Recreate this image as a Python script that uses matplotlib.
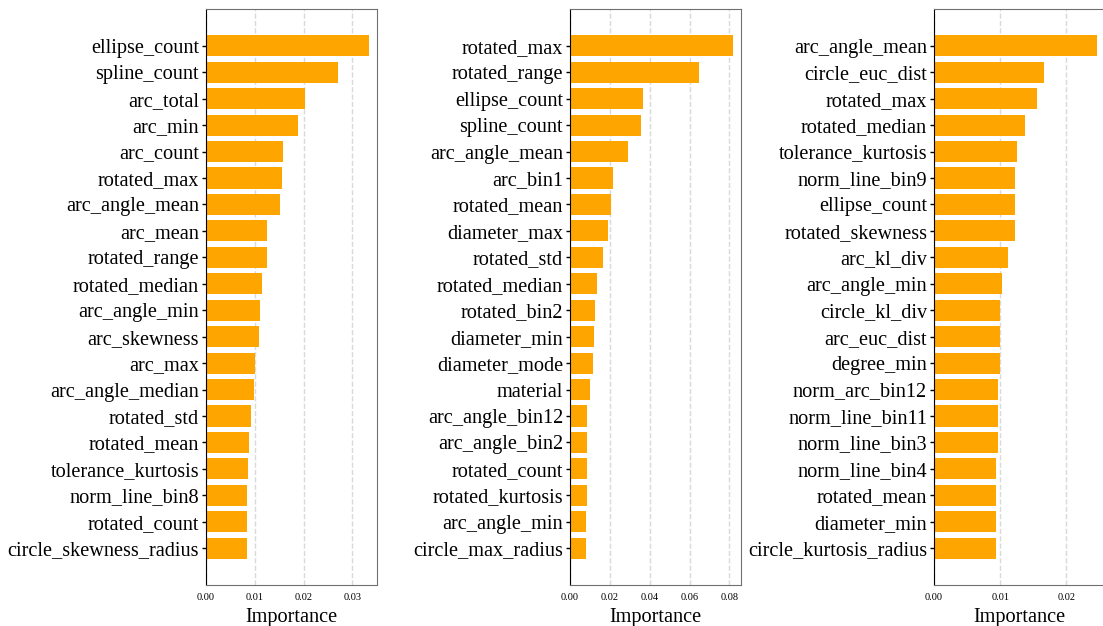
import numpy as np
import matplotlib.pyplot as plt

plt.rcParams['font.family'] = ['Liberation Serif', 'DejaVu Serif']

# feature importances for the three models
features_a = ['ellipse_count', 'spline_count', 'arc_total', 'arc_min', 'arc_count',
              'rotated_max', 'arc_angle_mean', 'arc_mean', 'rotated_range', 'rotated_median',
              'arc_angle_min', 'arc_skewness', 'arc_max', 'arc_angle_median', 'rotated_std',
              'rotated_mean', 'tolerance_kurtosis', 'norm_line_bin8', 'rotated_count',
              'circle_skewness_radius']
importance_a = [0.0334, 0.0270, 0.0204, 0.0188, 0.0157, 0.0155, 0.0151, 0.0126, 0.0126, 0.0115,
                0.0111, 0.0109, 0.0100, 0.0099, 0.0093, 0.0089, 0.0087, 0.0085, 0.0085, 0.0085]

features_b = ['rotated_max', 'rotated_range', 'ellipse_count', 'spline_count', 'arc_angle_mean',
              'arc_bin1', 'rotated_mean', 'diameter_max', 'rotated_std', 'rotated_median',
              'rotated_bin2', 'diameter_min', 'diameter_mode', 'material', 'arc_angle_bin12',
              'arc_angle_bin2', 'rotated_count', 'rotated_kurtosis', 'arc_angle_min',
              'circle_max_radius']
importance_b = [0.0817, 0.0645, 0.0368, 0.0358, 0.0292, 0.0217, 0.0207, 0.0192, 0.0166, 0.0136,
                0.0126, 0.0121, 0.0116, 0.0101, 0.0086, 0.0086, 0.0086, 0.0086, 0.0081, 0.0081]

features_c = ['arc_angle_mean', 'circle_euc_dist', 'rotated_max', 'rotated_median',
              'tolerance_kurtosis', 'norm_line_bin9', 'ellipse_count', 'rotated_skewness',
              'arc_kl_div', 'arc_angle_min', 'circle_kl_div', 'arc_euc_dist', 'degree_min',
              'norm_arc_bin12', 'norm_line_bin11', 'norm_line_bin3', 'norm_line_bin4',
              'rotated_mean', 'diameter_min', 'circle_kurtosis_radius']
importance_c = [0.0246, 0.0166, 0.0155, 0.0138, 0.0126, 0.0123, 0.0123, 0.0122, 0.0112, 0.0103,
                0.0100, 0.0100, 0.0100, 0.0097, 0.0096, 0.0096, 0.0094, 0.0094, 0.0094, 0.0094]

panels = [(features_a, importance_a, [0.00, 0.01, 0.02, 0.03]),
          (features_b, importance_b, [0.00, 0.02, 0.04, 0.06, 0.08]),
          (features_c, importance_c, [0.00, 0.01, 0.02])]

W, H = 1103, 626
fig = plt.figure(figsize=(W / 100, H / 100), dpi=100)

lefts = [206, 570, 934]
for left, (names, vals, ticks) in zip(lefts, panels):
    ax = fig.add_axes([left / W, (H - 585) / H, 171 / W, 576 / H])
    y = np.arange(len(names))
    ax.barh(y, vals, height=0.8, color='orange', zorder=2)
    ax.set_yticks(y)
    ax.set_yticklabels(names, fontsize=14.6)
    ax.invert_yaxis()
    ax.set_xlim(0, max(vals) * 1.05)
    ax.set_xticks(ticks)
    ax.set_xticklabels(['%.2f' % t for t in ticks], fontsize=7.5)
    ax.tick_params(axis='x', length=0, pad=6)
    ax.tick_params(axis='y', length=3, width=1, color='black', pad=2)
    ax.grid(axis='x', linestyle='--', color='#d9d9d9', linewidth=1, zorder=0)
    ax.set_xlabel('Importance', fontsize=14.6, labelpad=4)
    for side in ['top', 'right', 'bottom']:
        ax.spines[side].set_color('#707070')
    ax.spines['left'].set_color('black')

fig.savefig('out.png', dpi=100)
